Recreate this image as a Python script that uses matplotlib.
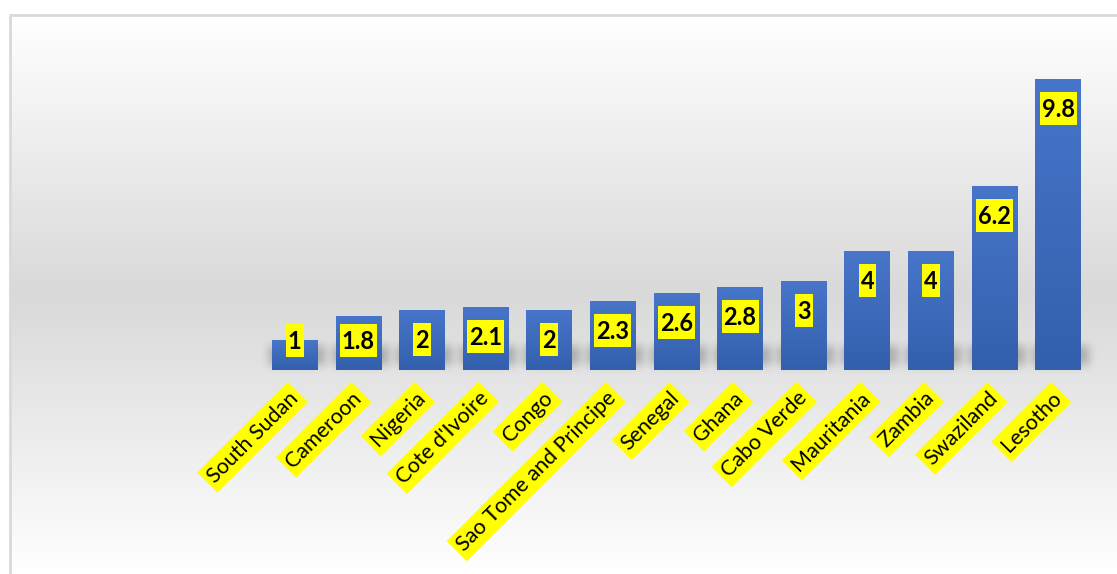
import numpy as np
import matplotlib.pyplot as plt
from matplotlib.colors import LinearSegmentedColormap
from matplotlib.patches import Rectangle

countries = ['South Sudan', 'Cameroon', 'Nigeria', "Cote d'Ivoire", 'Congo',
             'Sao Tome and Principe', 'Senegal', 'Ghana', 'Cabo Verde',
             'Mauritania', 'Zambia', 'Swaziland', 'Lesotho']
values = [1, 1.8, 2, 2.1, 2, 2.3, 2.6, 2.8, 3, 4, 4, 6.2, 9.8]
value_text = ['1', '1.8', '2', '2.1', '2', '2.3', '2.6', '2.8', '3', '4', '4', '6.2', '9.8']

W, H = 1117, 574
fig = plt.figure(figsize=(W / 100, H / 100), dpi=100)

# chart area: white -> grey -> white vertical gradient with a thin frame
bg = fig.add_axes([0, 0, 1, 1], zorder=-1)
bg.set_xlim(0, W)
bg.set_ylim(H, 0)
bg.axis('off')
rows = np.linspace(0, 1, 300)
shade = 1 - np.abs(rows - 0.5) * 2
grey = LinearSegmentedColormap.from_list('g', ['#ffffff', '#d9d9d9'])
bg.imshow(shade[:, None], cmap=grey, vmin=0, vmax=1, aspect='auto',
          extent=(10, W, H, 15), interpolation='bilinear')
bg.plot([10, 10, W], [H, 15, 15], color='#d9d9d9', lw=2, solid_capstyle='butt')

ax = fig.add_axes([263 / W, 204 / H, 827 / W, 296 / H])
ax.set_facecolor('none')
x = np.arange(len(countries))
width = 0.72
bars = ax.bar(x, values, width=width, color='#4472c4', zorder=2)

# blue gradient fill over each bar
blue = LinearSegmentedColormap.from_list('b', ['#3360ad', '#4775c9'])
grad = np.linspace(0, 1, 100)[:, None]
for b in bars:
    x0, h = b.get_x(), b.get_height()
    ax.imshow(grad, cmap=blue, aspect='auto', origin='lower', zorder=3,
              extent=(x0, x0 + width, 0, h))
ax.set_xlim(-0.5, len(countries) - 0.5)
ax.set_ylim(0, 10)

# soft blurred shadow band around the foot of each bar
mask = np.zeros((H, W))
for b in bars:
    (px0, py0), (px1, py1) = ax.transData.transform(
        [(b.get_x(), 0), (b.get_x() + width, b.get_height())])
    base = int(round(H - py0))
    top = max(base - 24, int(round(H - py1)))
    mask[top:base - 5, int(px0) - 2:int(px1) + 8] = 1.0


def blur(a, sigma):
    r = int(3 * sigma)
    k = np.exp(-np.arange(-r, r + 1) ** 2 / (2 * sigma ** 2))
    k /= k.sum()
    a = np.apply_along_axis(lambda v: np.convolve(v, k, mode='same'), 0, a)
    return np.apply_along_axis(lambda v: np.convolve(v, k, mode='same'), 1, a)


mask = blur(mask, 4.5)
shadow = np.zeros((H, W, 4))
shadow[..., 3] = mask * 0.24
bg.imshow(shadow, extent=(0, W, H, 0), aspect='auto', interpolation='bilinear')
bg.set_xlim(0, W)
bg.set_ylim(H, 0)

# value labels in yellow boxes near the top of the bars
fig.canvas.draw()
renderer = fig.canvas.get_renderer()
inv = ax.transData.inverted()
for xi, v, t in zip(x, values, value_text):
    yc = max(v - 0.98, 0.98)
    cx, cy = ax.transData.transform((xi, yc))
    txt = ax.text(xi, inv.transform((cx, cy - 8.5))[1], t, ha='center',
                  va='baseline', fontsize=17, fontweight='bold', family='Lato',
                  color='black', zorder=5)
    bb = txt.get_window_extent(renderer)
    (bx0, by0), (bx1, by1) = inv.transform([(cx - bb.width / 2 - 2, cy - 16.5),
                                            (cx + bb.width / 2 + 2, cy + 16.5)])
    ax.add_patch(Rectangle((bx0, by0), bx1 - bx0, by1 - by0, fc='#ffff00',
                           ec='none', zorder=4))

ax.set_xticks(x)
ax.set_xticklabels(countries, rotation=45, ha='right', va='center',
                   rotation_mode='anchor', fontsize=15.5, family='Lato',
                   bbox=dict(boxstyle='square,pad=0.2', fc='#ffff00', ec='none'))
ax.tick_params(axis='x', length=0, pad=18)
ax.set_yticks([])
for s in ax.spines.values():
    s.set_visible(False)

fig.savefig('out.png', dpi=100)
